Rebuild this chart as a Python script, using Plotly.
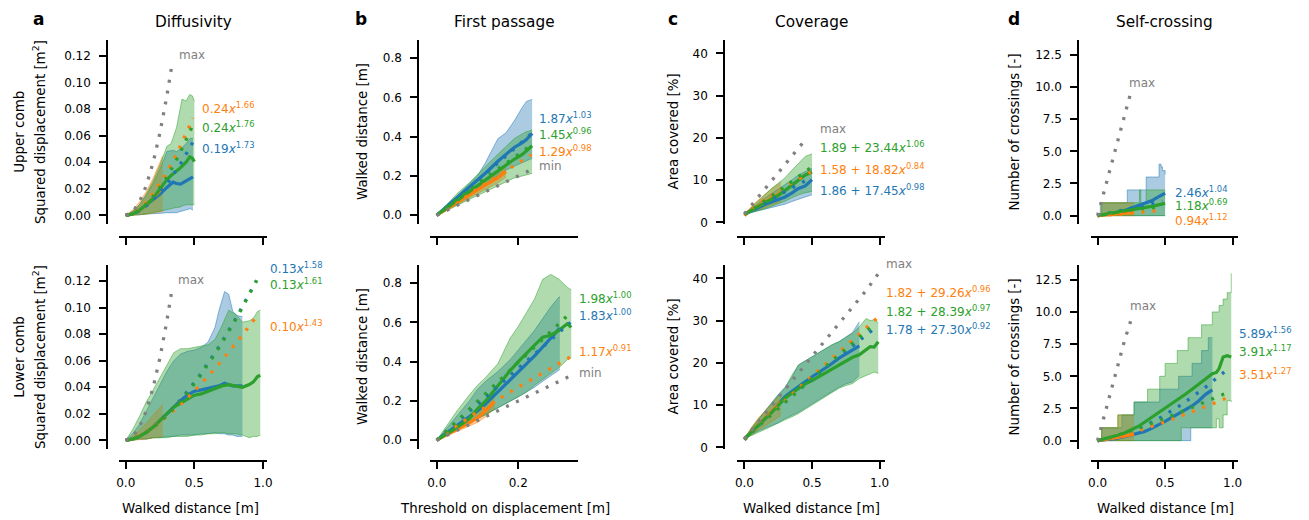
import numpy as np
import plotly.graph_objects as go

W, H = 1309, 520
BLUE, ORANGE, GREEN, GRAY = "#1f77b4", "#ff7f0e", "#2ca02c", "#808080"
FONT = "DejaVu Sans"

# ---------------- a: diffusivity (squared displacement vs walked distance) ----------------
a_up_blue_x = [0, .05, .1, .15, .2, .25, .3, .345, .37, .4, .44, .47, .49]
a_up_blue_mean = [0, .001, .004, .008, .012, .016, .021, .025, .024, .0235, .026, .028, .029]
a_up_blue_lo = [0, 0, .0005, .001, .001, .0015, .002, .002, .002, .003, .004, .005, .004]
a_up_blue_hi = [0, .003, .008, .015, .024, .035, .048, .049, .048, .050, .054, .058, .058]

a_up_orange_x = [0, .05, .1, .15, .2, .25, .27]
a_up_orange_mean = [0, .001, .004, .008, .013, .019, .021]
a_up_orange_lo = [0, 0, .0005, .001, .002, .003, .003]
a_up_orange_hi = [0, .004, .010, .018, .028, .040, .045]

a_up_green_x = [0, .05, .1, .15, .2, .25, .3, .33, .37, .39, .41, .44, .466, .485, .5]
a_up_green_mean = [0, .001, .004, .008, .013, .020, .027, .030, .033, .035, .037, .040, .044, .043, .0405]
a_up_green_lo = [0, 0, .0005, .001, .002, .003, .004, .005, .006, .006, .007, .008, .008, .008, .008]
a_up_green_hi = [0, .003, .008, .016, .026, .038, .052, .054, .066, .076, .0875, .086, .091, .090, .086]

a_lo_blue_x = [0, .05, .1, .15, .2, .25, .3, .35, .4, .45, .5, .55, .6, .65, .68, .72, .75, .78, .81, .85]
a_lo_blue_mean = [0, .001, .003, .006, .010, .015, .020, .025, .030, .034, .037, .038, .039, .040, .041, .043, .042, .041, .041, .041]
a_lo_blue_lo = [0, 0, .001, .001, .002, .002, .003, .003, .004, .004, .004, .005, .005, .006, .005, .005, .004, .004, .003, .003]
a_lo_blue_hi = [0, .005, .012, .022, .033, .043, .052, .060, .065, .067, .068, .070, .074, .085, .098, .112, .110, .097, .094, .093]

a_lo_orange_x = [0, .05, .1, .15, .2, .25, .27]
a_lo_orange_mean = [0, .001, .003, .006, .010, .015, .017]
a_lo_orange_lo = [0, 0, .0005, .001, .002, .003, .003]
a_lo_orange_hi = [0, .003, .008, .013, .019, .025, .027]

a_lo_green_x = [0, .05, .1, .15, .2, .25, .3, .35, .4, .45, .5, .55, .6, .65, .7, .75, .8, .85, .9, .93, .96, .98]
a_lo_green_mean = [0, .001, .003, .006, .010, .015, .0205, .025, .028, .031, .034, .035, .037, .039, .041, .042, .041, .040, .042, .044, .048, .049]
a_lo_green_lo = [0, 0, .001, .001, .002, .002, .002, .003, .003, .003, .004, .004, .005, .005, .006, .005, .005, .004, .002, .003, .003, .004]
a_lo_green_hi = [0, .008, .018, .029, .038, .047, .056, .066, .069, .069, .070, .071, .072, .076, .086, .098, .095, .089, .090, .092, .097, .098]

a_max_x = [0, .05, .1, .15, .2, .25, .3, .336]
a_max_y = [0, .0025, .01, .0225, .04, .0625, .09, .113]

# power-law fits  y = k * x^p  (blue, orange, green)
a_up_fit_k, a_up_fit_p, a_up_fit_end = [0.19, 0.24, 0.24], [1.73, 1.66, 1.76], [0.49, 0.49, 0.49]
a_lo_fit_k, a_lo_fit_p, a_lo_fit_end = [0.13, 0.10, 0.13], [1.58, 1.43, 1.61], [0.95, 0.96, 0.96]

# ---------------- b: first passage ----------------
b_up_blue_x = [0, .02, .05, .08, .1, .12, .15, .17, .19, .21, .22, .234]
b_up_blue_mean = [0, .035, .09, .145, .18, .215, .275, .31, .345, .37, .385, .417]
b_up_blue_lo = [0, .025, .07, .11, .14, .16, .2, .23, .25, .27, .28, .29]
b_up_blue_hi = [0, .04, .1, .16, .2, .27, .39, .42, .48, .55, .58, .59]

b_up_orange_x = [0, .02, .05, .08, .1, .12, .15, .17]
b_up_orange_mean = [0, .026, .065, .105, .13, .155, .19, .221]
b_up_orange_lo = [0, .02, .052, .088, .11, .13, .165, .195]
b_up_orange_hi = [0, .032, .08, .125, .155, .18, .215, .24]

b_up_green_x = [0, .02, .05, .08, .1, .12, .15, .17, .19, .21, .22, .234]
b_up_green_mean = [0, .03, .077, .12, .155, .18, .225, .255, .285, .31, .33, .354]
b_up_green_lo = [0, .018, .05, .08, .10, .12, .15, .17, .19, .20, .205, .213]
b_up_green_hi = [0, .045, .11, .165, .21, .25, .31, .35, .39, .415, .425, .434]

b_up_min_x = [0, .05, .1, .15, .2, .236]
b_up_min_y = [0, .05, .1, .15, .2, .236]

b_lo_blue_x = [0, .02, .05, .08, .1, .12, .15, .18, .2, .22, .24, .26, .28, .3, .302]
b_lo_blue_mean = [0, .03, .075, .12, .15, .185, .245, .31, .345, .39, .43, .475, .52, .565, .571]
b_lo_blue_lo = [0, .022, .055, .088, .11, .13, .165, .2, .22, .245, .27, .3, .33, .36, .36]
b_lo_blue_hi = [0, .05, .13, .2, .26, .3, .35, .41, .46, .51, .56, .62, .68, .73, .73]

b_lo_orange_x = [0, .02, .05, .08, .1, .12, .142]
b_lo_orange_mean = [0, .022, .055, .088, .115, .15, .197]
b_lo_orange_lo = [0, .018, .045, .07, .09, .12, .163]
b_lo_orange_hi = [0, .03, .07, .11, .14, .18, .24]

b_lo_green_x = [0, .02, .05, .08, .1, .12, .15, .18, .2, .22, .24, .26, .28, .3, .31, .32, .33]
b_lo_green_mean = [0, .025, .065, .11, .16, .2, .28, .355, .4, .445, .485, .525, .535, .56, .575, .593, .575]
b_lo_green_lo = [0, .02, .055, .085, .11, .13, .165, .2, .22, .245, .28, .31, .34, .37, .39, .41, .42]
b_lo_green_hi = [0, .06, .15, .23, .28, .32, .39, .52, .58, .65, .72, .82, .845, .82, .8, .78, .766]

b_lo_min_x = [0, .05, .1, .15, .2, .25, .3, .33]
b_lo_min_y = [0, .05, .1, .15, .2, .25, .3, .33]

b_up_fit_k, b_up_fit_p, b_up_fit_end = [1.87, 1.29, 1.45], [1.03, 0.98, 0.96], [0.234, 0.232, 0.234]
b_lo_fit_k, b_lo_fit_p, b_lo_fit_end = [1.83, 1.17, 1.98], [1.00, 0.91, 1.00], [0.328, 0.328, 0.32]

# ---------------- c: coverage ----------------
c_up_blue_x = [0, .05, .1, .15, .2, .25, .3, .35, .4, .45, .5]
c_up_blue_mean = [1.9, 2.7, 3.5, 4.2, 4.8, 5.4, 6.0, 6.9, 8.0, 8.6, 10.1]
c_up_blue_lo = [1.9, 2.3, 2.7, 3.1, 3.5, 3.9, 4.3, 4.9, 5.5, 6.0, 6.5]
c_up_blue_hi = [1.9, 3.2, 4.5, 5.7, 6.8, 7.8, 8.8, 10.0, 11.2, 12.0, 12.8]

c_up_orange_x = [0, .05, .1, .15, .2, .25, .27]
c_up_orange_mean = [1.9, 2.9, 3.8, 4.8, 5.7, 6.6, 7.1]
c_up_orange_lo = [1.9, 2.4, 2.9, 3.5, 4.1, 4.7, 5.0]
c_up_orange_hi = [1.9, 3.7, 5.2, 6.6, 7.9, 9.0, 9.5]

c_up_green_x = [0, .05, .1, .15, .2, .25, .3, .35, .4, .45, .5]
c_up_green_mean = [1.9, 2.8, 3.6, 4.5, 5.4, 6.4, 7.5, 8.7, 9.9, 11.2, 11.9]
c_up_green_lo = [1.9, 2.3, 2.7, 3.2, 3.8, 4.4, 5.0, 5.8, 6.5, 7.0, 7.3]
c_up_green_hi = [1.9, 3.5, 5.0, 6.5, 8.0, 9.3, 10.5, 12.3, 13.9, 15.6, 16.2]

c_up_max_x = [0, .1, .2, .3, .4, .46]
c_up_max_y = [2.0, 5.9, 9.8, 13.7, 17.6, 19.9]

c_lo_blue_x = [0, .05, .1, .15, .2, .25, .3, .35, .4, .45, .5, .55, .6, .65, .7, .75, .8, .85]
c_lo_blue_mean = [2.0, 3.6, 5.1, 6.7, 8.3, 10.2, 12.0, 13.2, 14.4, 15.6, 16.7, 17.7, 18.7, 19.9, 21.1, 22.0, 23.0, 24.0]
c_lo_blue_lo = [2.0, 3.0, 3.8, 4.5, 5.2, 5.8, 6.8, 7.5, 8.3, 9.3, 10.3, 11.3, 12.3, 13.3, 14.2, 15.0, 15.5, 17.0]
c_lo_blue_hi = [2.0, 4.3, 6.5, 8.5, 10.5, 12.5, 14.2, 16.5, 19.5, 20.5, 21.5, 22.5, 23.5, 24.3, 25.0, 26.0, 27.2, 29.7]

c_lo_orange_x = [0, .05, .1, .15, .2, .25, .27]
c_lo_orange_mean = [2.0, 3.7, 5.2, 6.8, 8.5, 10.1, 10.8]
c_lo_orange_lo = [2.0, 3.0, 4.0, 5.0, 6.0, 7.0, 7.5]
c_lo_orange_hi = [2.0, 4.6, 6.8, 8.6, 10.3, 12.0, 12.5]

c_lo_green_x = [0, .05, .1, .15, .2, .25, .3, .35, .4, .45, .5, .55, .6, .65, .7, .75, .8, .85, .9, .93, .96, .99]
c_lo_green_mean = [2.0, 3.5, 5.0, 6.6, 8.2, 9.9, 11.6, 12.8, 14.0, 15.0, 15.8, 16.7, 17.5, 18.5, 19.5, 20.4, 21.3, 21.9, 23.0, 23.8, 23.7, 25.0]
c_lo_green_lo = [2.0, 2.8, 3.5, 4.2, 5.0, 5.8, 6.5, 7.2, 8.0, 9.0, 10.0, 11.0, 12.0, 13.0, 14.0, 14.6, 15.1, 16.3, 17.0, 17.5, 17.8, 17.5]
c_lo_green_hi = [2.0, 4.5, 6.5, 8.5, 10.5, 12.3, 14.0, 17.0, 19.5, 20.5, 21.5, 22.5, 23.5, 24.3, 25.0, 26.0, 27.0, 28.5, 30.5, 30.0, 30.2, 29.5]

c_lo_max_x = [0, .1, .2, .3, .4, .5, .6, .7, .8, .9, .993]
c_lo_max_y = [2.0, 5.9, 9.8, 13.7, 17.6, 21.5, 25.4, 29.3, 33.2, 37.1, 41.2]

# offset power-law fits  y = c0 + k * x^p  (blue, orange, green)
c_up_fit_c0, c_up_fit_k, c_up_fit_p, c_up_fit_end = [1.86, 1.58, 1.89], [17.45, 18.82, 23.44], [0.98, 0.84, 1.06], [0.49, 0.49, 0.49]
c_lo_fit_c0, c_lo_fit_k, c_lo_fit_p, c_lo_fit_end = [1.78, 1.82, 1.82], [27.30, 29.26, 28.39], [0.92, 0.96, 0.97], [0.955, 0.98, 0.93]

# ---------------- d: self-crossing ----------------
d_up_blue_x = [0, .1, .2, .25, .3, .35, .4, .45, .5]
d_up_blue_mean = [0, .15, .4, .6, .75, .95, 1.15, 1.45, 1.74]
d_up_blue_bx = [0, .02, .22, .36, .455, .47, .48, .5]
d_up_blue_lo = [0, 0, 0, 0, 0, 0, 0, 0]
d_up_blue_hi = [0, 1, 2, 3, 4, 3.8, 3.5, 3.2]

d_up_orange_x = [0, .1, .2, .27]
d_up_orange_mean = [0, .08, .17, .26]
d_up_orange_bx = [0, .03, .27]
d_up_orange_lo = [0, 0, 0]
d_up_orange_hi = [0, 1, 1]

d_up_green_x = [0, .1, .2, .3, .4, .5]
d_up_green_mean = [0, .2, .4, .55, .72, .95]
d_up_green_bx = [0, .03, .31, .32, .36, .5]
d_up_green_lo = [0, 0, 0, 0, 0, 0]
d_up_green_hi = [0, 1, 2, 1, 2, 2]

d_up_max_x = [0, .05, .1, .15, .2, .244]
d_up_max_y = [0, 1.95, 3.9, 5.85, 7.8, 9.5]

d_lo_blue_x = [0, .05, .1, .15, .2, .25, .3, .35, .4, .45, .5, .55, .6, .65, .7, .75, .8, .85]
d_lo_blue_mean = [0, .05, .1, .2, .3, .42, .55, .72, .95, 1.2, 1.5, 1.8, 2.1, 2.35, 2.7, 3.1, 3.6, 3.95]
d_lo_blue_bx = [0, .03, .18, .27, .46, .6, .69, .7, .77, .82, .85]
d_lo_blue_lo = [0, 0, 0, 0, 0, 0, 1, 1, 1, 1, 1]
d_lo_blue_hi = [0, 1, 2, 3, 4, 5, 5, 6, 7, 8, 8]

d_lo_orange_x = [0, .05, .1, .15, .2, .25, .27]
d_lo_orange_mean = [0, .07, .15, .25, .35, .45, .5]
d_lo_orange_bx = [0, .03, .15, .27]
d_lo_orange_lo = [0, 0, 0, 0]
d_lo_orange_hi = [0, 1, 2, 2]

d_lo_green_x = [0, .05, .1, .15, .2, .25, .3, .35, .4, .45, .5, .55, .6, .65, .7, .75, .8, .85, .88, .9, .93, .96, .99]
d_lo_green_mean = [0, .12, .28, .42, .6, .82, 1.1, 1.45, 1.8, 2.15, 2.5, 2.85, 3.2, 3.6, 4.0, 4.4, 4.8, 5.2, 5.3, 5.6, 6.5, 6.6, 6.5]
d_lo_green_bx = [0, .03, .15, .27, .37, .46, .5, .59, .62, .67, .77, .85, .88, .9, .93, .96, .99]
d_lo_green_lo = [0, 0, 0, 0, 0, 0, 0, 0, 1, 1, 1, 1, 1.7, 1, 2, 3.1, 3]
d_lo_green_hi = [0, 1, 2, 3, 4, 5, 6, 7, 7, 8, 9, 10, 10, 10.5, 11, 11.5, 13]

d_lo_max_x = [0, .05, .1, .15, .2, .251]
d_lo_max_y = [0, 1.95, 3.9, 5.85, 7.8, 9.5]

d_up_fit_k, d_up_fit_p, d_up_fit_end = [2.46, 0.94, 1.18], [1.04, 1.12, 0.69], [0.48, 0.48, 0.48]
d_lo_fit_k, d_lo_fit_p, d_lo_fit_end = [5.89, 3.51, 3.91], [1.56, 1.27, 1.17], [0.946, 0.96, 0.96]

# ---------------- figure geometry (pixels) ----------------
col_left = [119, 430, 737, 1091]
col_right = [267, 578, 885, 1238]
yline_x = [107, 418, 724, 1078]
row_top = [40, 265]
row_bot = [224, 449]
xline_y = [237, 461]

x_ranges = [[-0.049, 1.029], [-0.0165, 0.3465], [-0.055, 1.04], [-0.049, 1.04]]
y_ranges = [[-0.0065, 0.132], [-0.045, 0.893], [-0.4, 43.15], [-0.65, 13.65]]
x_ticks = [[0, 0.5, 1.0], [0, 0.2], [0, 0.5, 1.0], [0, 0.5, 1.0]]
x_fmt = [".1f", ".1f", ".1f", ".1f"]
y_ticks = [[0, .02, .04, .06, .08, .10, .12], [0, .2, .4, .6, .8], [0, 10, 20, 30, 40],
           [0, 2.5, 5, 7.5, 10, 12.5]]
y_fmt = [".2f", ".1f", "d", ".1f"]


def rgba(hex_color, alpha):
    h = hex_color.lstrip("#")
    r, g, b = int(h[0:2], 16), int(h[2:4], 16), int(h[4:6], 16)
    return f"rgba({r},{g},{b},{alpha})"


fig = go.Figure()


def axis_refs(idx):
    return ("x" if idx == 1 else f"x{idx}"), ("y" if idx == 1 else f"y{idx}")


def add_band(idx, color, bx, lo, hi, shape="linear"):
    xr, yr = axis_refs(idx)
    fig.add_trace(go.Scatter(x=bx, y=lo, xaxis=xr, yaxis=yr, mode="lines",
                             line=dict(color=rgba(color, 0.5), width=1, shape=shape),
                             showlegend=False, hoverinfo="skip"))
    fig.add_trace(go.Scatter(x=bx, y=hi, xaxis=xr, yaxis=yr, mode="lines", fill="tonexty",
                             fillcolor=rgba(color, 0.38),
                             line=dict(color=rgba(color, 0.5), width=1, shape=shape),
                             showlegend=False, hoverinfo="skip"))


def add_line(idx, color, x, y, width=3.2, dash=None):
    xr, yr = axis_refs(idx)
    fig.add_trace(go.Scatter(x=x, y=y, xaxis=xr, yaxis=yr, mode="lines",
                             line=dict(color=color, width=width, dash=dash),
                             showlegend=False, hoverinfo="skip"))


DOT = "3px,8px"
COLORS = [BLUE, ORANGE, GREEN]

panels = [
    # (axis index, series [(x, mean, bx, lo, hi)], band shape, fit (c0, k, p, end), reference line)
    (1, [(a_up_blue_x, a_up_blue_mean, a_up_blue_x, a_up_blue_lo, a_up_blue_hi),
         (a_up_orange_x, a_up_orange_mean, a_up_orange_x, a_up_orange_lo, a_up_orange_hi),
         (a_up_green_x, a_up_green_mean, a_up_green_x, a_up_green_lo, a_up_green_hi)],
     "linear", ([0, 0, 0], a_up_fit_k, a_up_fit_p, a_up_fit_end), (a_max_x, a_max_y)),
    (5, [(a_lo_blue_x, a_lo_blue_mean, a_lo_blue_x, a_lo_blue_lo, a_lo_blue_hi),
         (a_lo_orange_x, a_lo_orange_mean, a_lo_orange_x, a_lo_orange_lo, a_lo_orange_hi),
         (a_lo_green_x, a_lo_green_mean, a_lo_green_x, a_lo_green_lo, a_lo_green_hi)],
     "linear", ([0, 0, 0], a_lo_fit_k, a_lo_fit_p, a_lo_fit_end), (a_max_x, a_max_y)),
    (2, [(b_up_blue_x, b_up_blue_mean, b_up_blue_x, b_up_blue_lo, b_up_blue_hi),
         (b_up_orange_x, b_up_orange_mean, b_up_orange_x, b_up_orange_lo, b_up_orange_hi),
         (b_up_green_x, b_up_green_mean, b_up_green_x, b_up_green_lo, b_up_green_hi)],
     "linear", ([0, 0, 0], b_up_fit_k, b_up_fit_p, b_up_fit_end), (b_up_min_x, b_up_min_y)),
    (6, [(b_lo_blue_x, b_lo_blue_mean, b_lo_blue_x, b_lo_blue_lo, b_lo_blue_hi),
         (b_lo_orange_x, b_lo_orange_mean, b_lo_orange_x, b_lo_orange_lo, b_lo_orange_hi),
         (b_lo_green_x, b_lo_green_mean, b_lo_green_x, b_lo_green_lo, b_lo_green_hi)],
     "linear", ([0, 0, 0], b_lo_fit_k, b_lo_fit_p, b_lo_fit_end), (b_lo_min_x, b_lo_min_y)),
    (3, [(c_up_blue_x, c_up_blue_mean, c_up_blue_x, c_up_blue_lo, c_up_blue_hi),
         (c_up_orange_x, c_up_orange_mean, c_up_orange_x, c_up_orange_lo, c_up_orange_hi),
         (c_up_green_x, c_up_green_mean, c_up_green_x, c_up_green_lo, c_up_green_hi)],
     "linear", (c_up_fit_c0, c_up_fit_k, c_up_fit_p, c_up_fit_end), (c_up_max_x, c_up_max_y)),
    (7, [(c_lo_blue_x, c_lo_blue_mean, c_lo_blue_x, c_lo_blue_lo, c_lo_blue_hi),
         (c_lo_orange_x, c_lo_orange_mean, c_lo_orange_x, c_lo_orange_lo, c_lo_orange_hi),
         (c_lo_green_x, c_lo_green_mean, c_lo_green_x, c_lo_green_lo, c_lo_green_hi)],
     "linear", (c_lo_fit_c0, c_lo_fit_k, c_lo_fit_p, c_lo_fit_end), (c_lo_max_x, c_lo_max_y)),
    (4, [(d_up_blue_x, d_up_blue_mean, d_up_blue_bx, d_up_blue_lo, d_up_blue_hi),
         (d_up_orange_x, d_up_orange_mean, d_up_orange_bx, d_up_orange_lo, d_up_orange_hi),
         (d_up_green_x, d_up_green_mean, d_up_green_bx, d_up_green_lo, d_up_green_hi)],
     "hv", ([0, 0, 0], d_up_fit_k, d_up_fit_p, d_up_fit_end), (d_up_max_x, d_up_max_y)),
    (8, [(d_lo_blue_x, d_lo_blue_mean, d_lo_blue_bx, d_lo_blue_lo, d_lo_blue_hi),
         (d_lo_orange_x, d_lo_orange_mean, d_lo_orange_bx, d_lo_orange_lo, d_lo_orange_hi),
         (d_lo_green_x, d_lo_green_mean, d_lo_green_bx, d_lo_green_lo, d_lo_green_hi)],
     "hv", ([0, 0, 0], d_lo_fit_k, d_lo_fit_p, d_lo_fit_end), (d_lo_max_x, d_lo_max_y)),
]

for idx, series, shape, fit, ref in panels:
    # shaded spread of each group
    for color, (x, mean, bx, lo, hi) in zip(COLORS, series):
        add_band(idx, color, bx, lo, hi, shape)
    # group means
    for color, (x, mean, bx, lo, hi) in zip(COLORS, series):
        add_line(idx, color, x, mean, width=3.2)
    # fitted curves, dotted
    c0s, ks, ps, ends = fit
    for color, c0, k, p, end in zip(COLORS, c0s, ks, ps, ends):
        fx = np.linspace(0, end, 80)
        add_line(idx, color, fx, c0 + k * fx ** p, width=3.3, dash=DOT)
    # theoretical bound
    add_line(idx, GRAY, ref[0], ref[1], width=3.3, dash=DOT)

# ---------------- axes ----------------
layout_axes = {}
for row in range(2):
    for col in range(4):
        idx = row * 4 + col + 1
        xname = "xaxis" if idx == 1 else f"xaxis{idx}"
        yname = "yaxis" if idx == 1 else f"yaxis{idx}"
        common = dict(showline=True, linecolor="black", linewidth=1.5, ticks="outside",
                      ticklen=7, tickwidth=1.5, tickcolor="black", showgrid=False,
                      zeroline=False, tickfont=dict(family=FONT, size=12, color="black"),
                      automargin=False, fixedrange=True)
        layout_axes[xname] = dict(
            common, domain=[col_left[col] / W, col_right[col] / W], anchor="free",
            position=1 - xline_y[row] / H, range=x_ranges[col], tickmode="array",
            tickvals=x_ticks[col], ticktext=[format(v, x_fmt[col]) for v in x_ticks[col]],
            showticklabels=(row == 1), ticklabelstandoff=4)
        layout_axes[yname] = dict(
            common, domain=[1 - row_bot[row] / H, 1 - row_top[row] / H], anchor="free",
            position=yline_x[col] / W, range=y_ranges[col], tickmode="array",
            tickvals=y_ticks[col],
            ticktext=[format(int(v), "d") if y_fmt[col] == "d" else format(v, y_fmt[col])
                      for v in y_ticks[col]],
            ticklabelstandoff=6)

annotations = []


def text(x, y, s, color="black", size=12, xanchor="left", angle=0, bold=False):
    annotations.append(dict(x=x / W, y=1 - y / H, xref="paper", yref="paper", text=s,
                            showarrow=False, xanchor=xanchor, yanchor="middle",
                            textangle=angle,
                            font=dict(family=FONT, size=size, color=color,
                                      weight=("bold" if bold else "normal"))))


def power_label(k, p, c0=None):
    base = f"{k:.2f}<i>x</i><sup>{p:.2f}</sup>"
    return base if c0 is None else f"{c0:.2f} + " + base


# panel letters and titles
for letter, lx in zip("abcd", [38.5, 361, 672.5, 1013.7]):
    text(lx, 19, letter, size=17, xanchor="center", bold=True)
for title, tx in zip(["Diffusivity", "First passage", "Coverage", "Self-crossing"],
                     [193, 504, 811.3, 1164.2]):
    text(tx, 22, title, size=15.3, xanchor="center")

# axis titles
for row, name in enumerate(["Upper comb", "Lower comb"]):
    cy = (row_top[row] + row_bot[row]) / 2
    text(18.7, cy, name, size=13.4, xanchor="center", angle=-90)
    text(39, cy, "Squared displacement [m<sup>2</sup>]", size=13.4, xanchor="center", angle=-90)
    text(362, cy, "Walked distance [m]", size=13.4, xanchor="center", angle=-90)
    text(672.5, cy, "Area covered [%]", size=13.4, xanchor="center", angle=-90)
    text(1013.5, cy, "Number of crossings [-]", size=13.4, xanchor="center", angle=-90)
for label, tx in zip(["Walked distance [m]", "Threshold on displacement [m]",
                      "Walked distance [m]", "Walked distance [m]"],
                     [190.3, 505.3, 811, 1165]):
    text(tx, 508, label, size=13.4, xanchor="center")

# fit labels, coloured like their groups
text(177, 55, "max", GRAY)
text(200.3, 108, power_label(a_up_fit_k[1], a_up_fit_p[1]), ORANGE)
text(200.3, 127, power_label(a_up_fit_k[2], a_up_fit_p[2]), GREEN)
text(200.3, 147.5, power_label(a_up_fit_k[0], a_up_fit_p[0]), BLUE)

text(176, 280, "max", GRAY)
text(268.3, 268.3, power_label(a_lo_fit_k[0], a_lo_fit_p[0]), BLUE)
text(268.3, 284.3, power_label(a_lo_fit_k[2], a_lo_fit_p[2]), GREEN)
text(268.3, 326, power_label(a_lo_fit_k[1], a_lo_fit_p[1]), ORANGE)

text(537.3, 118.3, power_label(b_up_fit_k[0], b_up_fit_p[0]), BLUE)
text(537.3, 134.3, power_label(b_up_fit_k[2], b_up_fit_p[2]), GREEN)
text(537.3, 150.7, power_label(b_up_fit_k[1], b_up_fit_p[1]), ORANGE)
text(537.3, 165.7, "min", GRAY)

text(576.7, 297.7, power_label(b_lo_fit_k[2], b_lo_fit_p[2]), GREEN)
text(576.7, 315, power_label(b_lo_fit_k[0], b_lo_fit_p[0]), BLUE)
text(576.7, 351, power_label(b_lo_fit_k[1], b_lo_fit_p[1]), ORANGE)
text(576.7, 373.3, "min", GRAY)

text(817.7, 129.3, "max", GRAY)
text(817.7, 147.3, power_label(c_up_fit_k[2], c_up_fit_p[2], c_up_fit_c0[2]), GREEN)
text(817.7, 169, power_label(c_up_fit_k[1], c_up_fit_p[1], c_up_fit_c0[1]), ORANGE)
text(817.7, 190, power_label(c_up_fit_k[0], c_up_fit_p[0], c_up_fit_c0[0]), BLUE)

text(884, 264, "max", GRAY)
text(884, 292.3, power_label(c_lo_fit_k[1], c_lo_fit_p[1], c_lo_fit_c0[1]), ORANGE)
text(884, 311, power_label(c_lo_fit_k[2], c_lo_fit_p[2], c_lo_fit_c0[2]), GREEN)
text(884, 329.3, power_label(c_lo_fit_k[0], c_lo_fit_p[0], c_lo_fit_c0[0]), BLUE)

text(1126.7, 82.7, "max", GRAY)
text(1172.7, 191.7, power_label(d_up_fit_k[0], d_up_fit_p[0]), BLUE)
text(1172.7, 205, power_label(d_up_fit_k[2], d_up_fit_p[2]), GREEN)
text(1172.7, 220, power_label(d_up_fit_k[1], d_up_fit_p[1]), ORANGE)

text(1127.7, 306, "max", GRAY)
text(1237.3, 333.3, power_label(d_lo_fit_k[0], d_lo_fit_p[0]), BLUE)
text(1237.3, 351, power_label(d_lo_fit_k[2], d_lo_fit_p[2]), GREEN)
text(1237.3, 374, power_label(d_lo_fit_k[1], d_lo_fit_p[1]), ORANGE)

fig.update_layout(
    width=W, height=H, autosize=False,
    margin=dict(l=0, r=0, t=0, b=0, pad=0),
    paper_bgcolor="white", plot_bgcolor="white",
    font=dict(family=FONT, size=12, color="black"),
    showlegend=False, annotations=annotations,
    **layout_axes,
)

fig.write_html("out.html")
